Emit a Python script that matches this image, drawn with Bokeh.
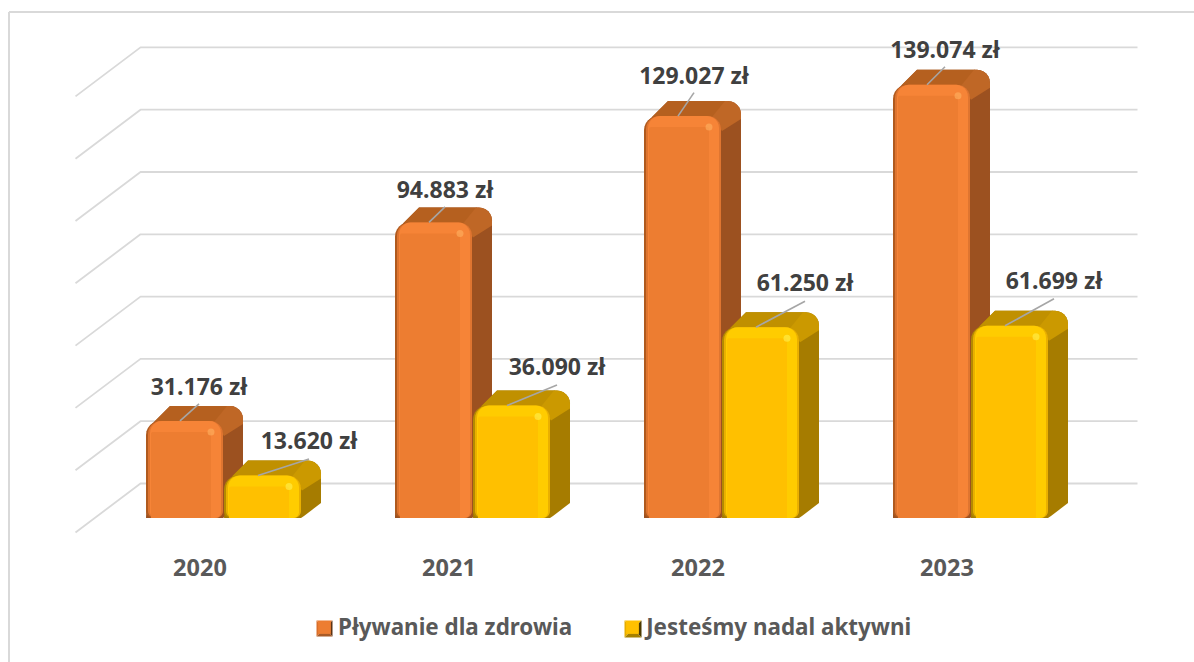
import math
from bokeh.plotting import figure
from bokeh.embed import file_html
from bokeh.resources import INLINE
from bokeh.core.properties import value
from bokeh.models import FixedTicker, Legend, LegendItem

years = ["2020", "2021", "2022", "2023"]
swim = [31176, 94883, 129027, 139074]
active = [13620, 36090, 61250, 61699]
swim_labels = ["31.176 zł", "94.883 zł", "129.027 zł", "139.074 zł"]
active_labels = ["13.620 zł", "36.090 zł", "61.250 zł", "61.699 zł"]
series_names = ["Pływanie dla zdrowia", "Jesteśmy nadal aktywni"]
grid_values = [0, 20000, 40000, 60000, 80000, 100000, 120000, 140000]

W, H = 1194, 662
PAGE = 0
PX_PER_K = 3.115
BASE = 517.5
STEP = 249
TICK0 = 199.5
FONT = "Noto Sans"


def X(px):
    return (px - TICK0) / STEP


def Y(py):
    return (BASE - py) / PX_PER_K * 1000


def top_px(v):
    return BASE - v * PX_PER_K / 1000


p = figure(width=W, height=H, output_backend="svg", toolbar_location=None,
           x_range=(X(PAGE), X(PAGE + W)), y_range=(Y(PAGE + H), Y(PAGE)),
           min_border=0, min_border_left=0, min_border_right=0, min_border_top=0, min_border_bottom=0,
           outline_line_color=None, background_fill_color="white", border_fill_color="white")
p.grid.visible = False
p.yaxis.visible = False

ax = p.xaxis[0]
ax.ticker = FixedTicker(ticks=[0, 1, 2, 3])
ax.major_label_overrides = {i: y for i, y in enumerate(years)}
ax.fixed_location = Y(552)
ax.axis_line_color = None
ax.major_tick_line_color = None
ax.minor_tick_line_color = None
ax.major_label_standoff = 0
ax.major_label_text_font = FONT
ax.major_label_text_font_style = "bold"
ax.major_label_text_font_size = "23.5px"
ax.major_label_text_color = "#595959"

# outer frame: top and left rules only
p.line([X(8.5), X(8.5)], [Y(PAGE + H), Y(11.5)], line_color="#d9d9d9", line_width=2)
p.line([X(8.5), X(PAGE + W)], [Y(11.5), Y(11.5)], line_color="#d9d9d9", line_width=2)

# gridlines on back wall and side wall
GRID_BACK = 483
for g in grid_values:
    gy = GRID_BACK - g * PX_PER_K / 1000
    p.line([X(75), X(140), X(1137)], [Y(gy + 49), Y(gy), Y(gy)],
           line_color="#d9d9d9", line_width=1.8)


def arc(cx, cy, r, a0, a1, n=6):
    return [(cx + r * math.cos(math.radians(a0 + (a1 - a0) * k / n)),
             cy + r * math.sin(math.radians(a0 + (a1 - a0) * k / n))) for k in range(n + 1)]


def rr(x0, x1, yt, yb, rt, rb):
    pts = []
    pts += arc(x0 + rt, yt + rt, rt, 180, 270)
    pts += arc(x1 - rt, yt + rt, rt, 270, 360)
    pts += arc(x1 - rb, yb - rb, rb, 0, 90)
    pts += arc(x0 + rb, yb - rb, rb, 90, 180)
    return pts


def to_data(pts):
    return [X(a) for a, _ in pts], [Y(b) for _, b in pts]


def layer(shapes, color, level=None):
    xs, ys = zip(*[to_data(s) for s in shapes])
    kw = {"level": level} if level else {}
    return p.patches(list(xs), list(ys), fill_color=color, line_color=None, **kw)


DX, DY = 20, -15
BAR_W = 77


def draw_series(values, first_x, pal):
    x0s = [first_x + STEP * i for i in range(len(values))]
    tops = [top_px(v) for v in values]
    hull, top, corner, base, mid, bright, main, spots = [], [], [], [], [], [], [], []
    for x0, yt in zip(x0s, tops):
        x1 = x0 + BAR_W
        hull.append([(x0 + 4, yt + 5), (x0 + 24, yt + DY)] + arc(x1 + DX - 13, yt + DY + 13, 13, 270, 360)
                    + [(x1 + DX, BASE + DY), (x1 + 3, BASE - 2), (x1, BASE), (x0, BASE)])
        top.append([(x0 + 4, yt + 5), (x0 + 24, yt + DY), (x1 + 5, yt + DY), (x1 - 8, yt + 1), (x0 + 8, yt + 1)])
        corner.append([(x1 + 4, yt + DY)] + arc(x1 + DX - 13, yt + DY + 13, 13, 270, 360)
                      + [(x1 + DX, yt + 3), (x1 + 1, yt + 15), (x1 - 9, yt + 1)])
        base.append(rr(x0, x1, yt, BASE, 14, 7))
        mid.append(rr(x0 + 2, x1, yt, BASE, 13, 7))
        bright.append(rr(x0 + 4, x1 - 2, yt, BASE, 12, 6))
        main.append(rr(x0 + 5, x1 - 12, yt + 11, BASE, 2, 0))
        spots.append((x1 - 12, yt + 11))
    layer(hull, pal["side"])
    layer(top, pal["top"])
    layer(corner, pal["corner"])
    layer(base, pal["dark"])
    layer(mid, pal["mid"])
    layer(bright, pal["bright"])
    r = layer(main, pal["main"])
    p.scatter([X(a) for a, _ in spots], [Y(b) for _, b in spots], size=7,
              fill_color=pal["spot"], fill_alpha=0.6, line_color=None)
    return r, x0s, tops


ORANGE = dict(side="#9c5120", top="#b5601f", corner="#bf6726", dark="#b05a1e", mid="#df7530",
              bright="#f68437", main="#ed7d31", spot="#ffb060")
YELLOW = dict(side="#a67c00", top="#c09000", corner="#cb9900", dark="#b48a00", mid="#eab000",
              bright="#ffcc00", main="#ffc000", spot="#fff050")

r1, sx, st = draw_series(swim, 145.5, ORANGE)
r2, ax0, at = draw_series(active, 223.5, YELLOW)

# data labels with leader lines: offset of the label from the bar's top-left corner
swim_off = [(53, -35), (50, -33.5), (50, -41.5), (52, -36)]
active_off = [(85, -35.5), (84, -39.5), (83, -45), (83, -46)]


def labels(x0s, tops, texts, offs, gap):
    for x0, yt, t, (ox, oy) in zip(x0s, tops, texts, offs):
        lx, ly = x0 + ox, yt + oy
        p.line([X(x0 + 34), X(lx)], [Y(yt), Y(ly + gap)], line_color="#a6a6a6", line_width=1.6)
        p.text([X(lx)], [Y(ly)], text=[t], text_align="center", text_baseline="middle",
               text_font=value(FONT), text_font_style="bold", text_font_size="23px", text_color="#404040")


labels(sx, st, swim_labels, swim_off, 18)
labels(ax0, at, active_labels, active_off, 19)

# legend
legend = Legend(items=[LegendItem(label=series_names[0], renderers=[r1]),
                       LegendItem(label=series_names[1], renderers=[r2])],
                orientation="horizontal", location=(316, 20), glyph_width=16, glyph_height=16,
                label_standoff=6, spacing=52, padding=0, margin=0, border_line_color=None,
                background_fill_alpha=0, label_text_font=FONT, label_text_font_style="bold",
                label_text_font_size="22.4px", label_text_color="#595959")
p.add_layout(legend, "center")


def bevel(mx, my, s, top_c, left_c, right_c, bottom_c, centre_c):
    i = 5
    faces = [
        ([(mx, my), (mx + s, my), (mx + s - i, my + i), (mx + i, my + i)], top_c),
        ([(mx, my), (mx + i, my + i), (mx + i, my + s - i), (mx, my + s)], left_c),
        ([(mx + s, my), (mx + s, my + s), (mx + s - i, my + s - i), (mx + s - i, my + i)], right_c),
        ([(mx, my + s), (mx + i, my + s - i), (mx + s - i, my + s - i), (mx + s, my + s)], bottom_c),
        ([(mx + i, my + i), (mx + s - i, my + i), (mx + s - i, my + s - i), (mx + i, my + s - i)], centre_c),
    ]
    for pts, c in faces:
        layer([pts], c, level="overlay")


bevel(316, 620, 16, "#e8792f", "#d96f2a", "#5c3314", "#a85a26", "#b8632a")
bevel(624, 620, 17, "#ffc000", "#e6ad00", "#4d3a00", "#a68000", "#c89600")

open("out.html", "w").write(file_html(p, INLINE))
